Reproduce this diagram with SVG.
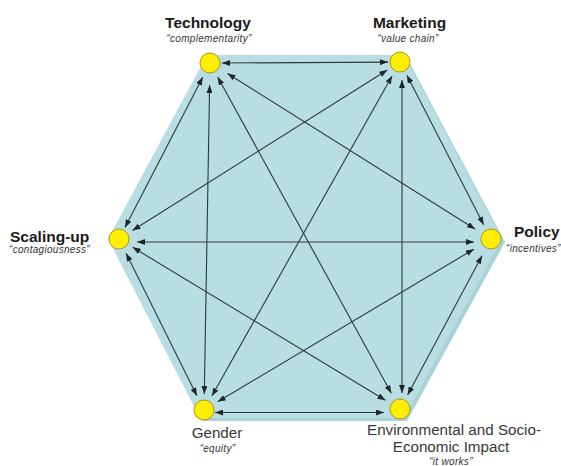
<svg xmlns="http://www.w3.org/2000/svg" width="561" height="466" viewBox="0 0 561 466">
  <style>
    .lbl { font-family: "Liberation Sans", Arial, sans-serif; font-weight: bold; font-size: 15.5px; fill: #1a1a1a; }
    .lbl2 { font-family: "Liberation Sans", Arial, sans-serif; font-size: 15.2px; fill: #383838; }
    .sub { font-family: "Liberation Sans", Arial, sans-serif; font-style: italic; font-size: 10px; letter-spacing: 0.3px; fill: #333; }
    .node { fill: #ffee00; stroke: #a89a1a; stroke-width: 1; }
    .conn line { stroke: #2e3a3c; stroke-width: 1.1; marker-start: url(#ah); marker-end: url(#ah); }
  </style>
  <defs>
    <marker id="ah" markerUnits="userSpaceOnUse" markerWidth="8" markerHeight="6" refX="8" refY="3" orient="auto-start-reverse">
      <path d="M0,0 L8,3 L0,6 z" fill="#1e2628"/>
    </marker>
  </defs>
  <rect width="561" height="466" fill="#ffffff"/>
  <g id="hexagon">
    <polygon points="210,58 407,58 505,242 407,421 203,421 111,242" fill="#a8d2d8"/>
    <polygon points="207,55 404,55 502,239 404,418 200,418 108,239" fill="#b8dde3"/>
  </g>
  <g id="connectors" class="conn">
    <line x1="222" y1="63" x2="388" y2="62.1"/>
    <line x1="202.7" y1="77.2" x2="125" y2="227.5"/>
    <line x1="227.5" y1="73.5" x2="475" y2="229"/>
    <line x1="217.7" y1="77" x2="391.3" y2="393.2"/>
    <line x1="209.6" y1="85" x2="204.3" y2="394"/>
    <line x1="387.3" y1="70" x2="132.5" y2="230.5"/>
    <line x1="406.9" y1="75.3" x2="483.7" y2="224.8"/>
    <line x1="392.1" y1="75.9" x2="211.9" y2="396.1"/>
    <line x1="402" y1="80" x2="402" y2="393"/>
    <line x1="137" y1="242" x2="474" y2="242"/>
    <line x1="126.1" y1="253.3" x2="196.9" y2="395.7"/>
    <line x1="132.7" y1="247.3" x2="385.4" y2="400.2"/>
    <line x1="473.8" y1="249.2" x2="217.7" y2="401.8"/>
    <line x1="482" y1="255.8" x2="407.6" y2="394.9"/>
    <line x1="215" y1="412.5" x2="384" y2="412.5"/>
  </g>
  <g id="technology">
    <circle class="node" cx="210" cy="63" r="10"/>
    <text class="lbl" x="208" y="28" text-anchor="middle">Technology</text>
    <text class="sub" x="209" y="42" text-anchor="middle">“complementarity”</text>
  </g>
  <g id="marketing">
    <circle class="node" cx="400" cy="62" r="10"/>
    <text class="lbl" x="409.5" y="28" text-anchor="middle">Marketing</text>
    <text class="sub" x="408" y="42" text-anchor="middle">“value chain”</text>
  </g>
  <g id="scaling-up">
    <circle class="node" cx="119" cy="239" r="10"/>
    <text class="lbl" x="10" y="242" font-size="16">Scaling-up</text>
    <text class="sub" x="9" y="252.5">“contagiousness”</text>
  </g>
  <g id="policy">
    <circle class="node" cx="491" cy="239" r="10"/>
    <text class="lbl" x="514" y="237">Policy</text>
    <text class="sub" x="506" y="252" font-size="9.5" letter-spacing="0">“incentives”</text>
  </g>
  <g id="gender">
    <circle class="node" cx="204" cy="410" r="10"/>
    <text class="lbl2" x="217" y="438" text-anchor="middle">Gender</text>
    <text class="sub" x="217.5" y="452" text-anchor="middle" font-size="9.5">“equity”</text>
  </g>
  <g id="impact">
    <circle class="node" cx="400" cy="409" r="10"/>
    <text class="lbl2" x="454" y="435" text-anchor="middle">Environmental and Socio-</text>
    <text class="lbl2" x="451" y="452" text-anchor="middle">Economic Impact</text>
    <text class="sub" x="451" y="464.5" text-anchor="middle" font-size="9">“it works”</text>
  </g>
</svg>
